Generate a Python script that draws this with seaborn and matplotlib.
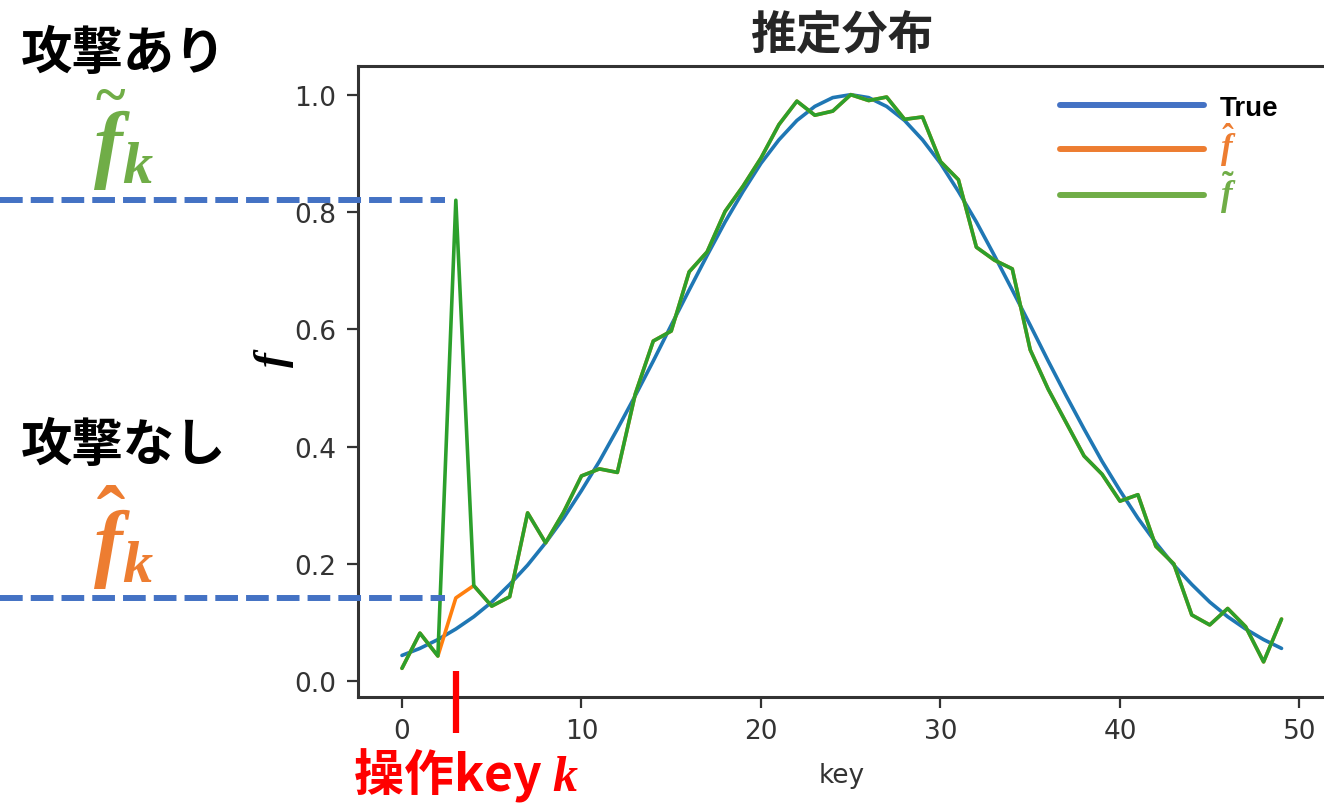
import matplotlib
matplotlib.use("Agg")
import matplotlib.pyplot as plt
import matplotlib.transforms as mtransforms
from matplotlib.lines import Line2D
from matplotlib.font_manager import FontProperties
import pandas as pd
import seaborn as sns

# ---------------- data ----------------
keys = list(range(50))

f_true = [0.044, 0.056, 0.071, 0.089, 0.110, 0.135, 0.165, 0.198, 0.236, 0.278,
          0.325, 0.375, 0.430, 0.487, 0.546, 0.607, 0.667, 0.726, 0.783, 0.835,
          0.883, 0.923, 0.956, 0.980, 0.995, 1.000, 0.995, 0.980, 0.956, 0.923,
          0.883, 0.835, 0.783, 0.726, 0.667, 0.607, 0.546, 0.487, 0.430, 0.375,
          0.325, 0.278, 0.236, 0.198, 0.165, 0.135, 0.110, 0.089, 0.071, 0.056]

f_hat = [0.022, 0.082, 0.043, 0.142, 0.163, 0.128, 0.144, 0.287, 0.236, 0.288,
         0.350, 0.362, 0.356, 0.490, 0.580, 0.597, 0.698, 0.732, 0.801, 0.844,
         0.892, 0.949, 0.989, 0.965, 0.972, 1.000, 0.990, 0.996, 0.958, 0.962,
         0.886, 0.855, 0.740, 0.718, 0.703, 0.565, 0.498, 0.441, 0.384, 0.353,
         0.307, 0.318, 0.230, 0.200, 0.113, 0.096, 0.124, 0.093, 0.033, 0.106]

f_tilde = [0.022, 0.082, 0.043, 0.820, 0.163, 0.128, 0.144, 0.287, 0.236, 0.288,
           0.350, 0.362, 0.356, 0.490, 0.580, 0.597, 0.698, 0.732, 0.801, 0.844,
           0.892, 0.949, 0.989, 0.965, 0.972, 1.000, 0.990, 0.996, 0.958, 0.962,
           0.886, 0.855, 0.740, 0.718, 0.703, 0.565, 0.498, 0.441, 0.384, 0.353,
           0.307, 0.318, 0.230, 0.200, 0.113, 0.096, 0.124, 0.093, 0.033, 0.106]

attacked_key = 3

series_names = ["True", "hat", "tilde"]
legend_labels = ["True", r"$\hat{f}$", r"$\tilde{f}$"]
title_text = "推定分布"
xlabel_text = "key"
ylabel_text = r"$f$"
attack_label = "攻撃あり"
noattack_label = "攻撃なし"
attack_sym = r"$\widetilde{f}_k$"
noattack_sym = r"$\hat{f}_k$"
key_label = "操作key $k$"

# ---------------- style ----------------
sns.set_theme(style="ticks")
plt.rcParams['font.family'] = ['DejaVu Sans']
plt.rcParams['mathtext.fontset'] = 'custom'
plt.rcParams['mathtext.it'] = 'Liberation Serif:italic:bold'
plt.rcParams['mathtext.rm'] = 'Liberation Serif:bold'
plt.rcParams['mathtext.bf'] = 'Liberation Serif:bold'

line_colors = ["#1f77b4", "#ff7f0e", "#2ca02c"]
office_colors = ["#4472C4", "#ED7D31", "#70AD47"]
text_colors = ["black", "#ED7D31", "#70AD47"]

W, H = 1324, 804
fig = plt.figure(figsize=(W / 100, H / 100), dpi=100)
ax = fig.add_axes([358 / W, 1 - 698 / H, (1325.5 - 358) / W, (698 - 67) / H])

df = pd.DataFrame({
    "key": keys * 3,
    "f": f_true + f_hat + f_tilde,
    "series": [series_names[0]] * len(keys) + [series_names[1]] * len(keys) + [series_names[2]] * len(keys),
})
sns.lineplot(data=df, x="key", y="f", hue="series", hue_order=series_names,
             palette=line_colors, linewidth=2.6, ax=ax, legend=False)
xlim = ax.get_xlim()
ylim = ax.get_ylim()

ax.set_xticks([0, 10, 20, 30, 40, 50])
ax.set_yticks([0.0, 0.2, 0.4, 0.6, 0.8, 1.0])
ax.tick_params(axis='both', labelsize=19, length=8, width=1.6, colors='.2')
ax.tick_params(axis='x', pad=7)
ax.tick_params(axis='y', pad=8)
for sp in ax.spines.values():
    sp.set_linewidth(2.2)
    sp.set_color('.2')

ax.set_title(title_text, fontsize=33, fontweight='bold', family=['Noto Sans CJK JP'], pad=13)
ax.set_xlabel(xlabel_text, fontsize=19, color='.2', labelpad=13)
ax.set_ylabel(ylabel_text, fontsize=32, color='black')
ax.yaxis.set_label_coords(-0.064, 0.54)

# legend (overlay style)
handles = [Line2D([], [], color=c, lw=4.3) for c in office_colors]
leg = ax.legend(handles, legend_labels, loc='upper left',
                bbox_to_anchor=(1035 / W, 1 - 71 / H), bbox_transform=fig.transFigure,
                frameon=False, handlelength=5.2, handletextpad=0.55, labelspacing=0.0,
                prop=FontProperties(family='Liberation Sans', weight='bold', size=20))
for t, c in zip(leg.get_texts(), text_colors):
    t.set_color(c)
leg.get_texts()[1].set_fontsize(25)
leg.get_texts()[2].set_fontsize(25)

# dashed guide lines
trans = mtransforms.blended_transform_factory(fig.transFigure, ax.transData)
for val in (f_tilde[attacked_key], f_hat[attacked_key]):
    ln = Line2D([0, 445 / W], [val, val], transform=trans, color='#4472C4', lw=4.3,
                dashes=(3.8, 1.35), zorder=5)
    fig.add_artist(ln)

# red marker for attacked key
ax.plot([attacked_key, attacked_key], [0.017, -0.089], color='red', lw=4.5,
        clip_on=False, solid_capstyle='butt', zorder=6)
ax.set_xlim(xlim)
ax.set_ylim(ylim)

# annotations
cjk = ['Noto Sans CJK JP']
fig.text(21 / W, 1 - 53 / H, attack_label, family=cjk, fontweight='bold', fontsize=37,
         ha='left', va='center', color='black')
fig.text(21 / W, 1 - 446 / H, noattack_label, family=cjk, fontweight='bold', fontsize=37,
         ha='left', va='center', color='black')
fig.text(124 / W, 1 - 140 / H, attack_sym, fontsize=62, ha='center', va='center', color='#70AD47')
fig.text(124 / W, 1 - 538 / H, noattack_sym, fontsize=62, ha='center', va='center', color='#ED7D31')
fig.text(466 / W, 1 - 775 / H, key_label, family=cjk, fontweight='bold', fontsize=36,
         ha='center', va='center', color='red')

fig.savefig("out.png", dpi=100)
